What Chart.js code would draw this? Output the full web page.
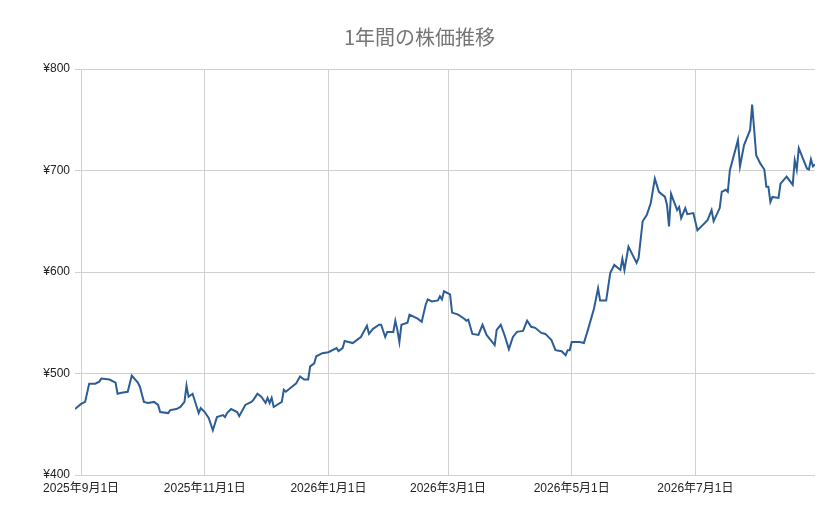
<!DOCTYPE html>
<html lang="ja">
<head>
<meta charset="utf-8">
<title>1年間の株価推移</title>
<script src="https://cdn.jsdelivr.net/npm/chart.js@4.4.1/dist/chart.umd.min.js"></script>
<style>
  html, body { margin: 0; padding: 0; background: #fff; }
  #wrap { width: 839px; height: 519px; }
</style>
</head>
<body>
<div id="wrap"><canvas id="priceChart"></canvas></div>
<script>
// Daily closing prices
const dates = [
  '2025-08-29', '2025-09-01', '2025-09-03', '2025-09-05', '2025-09-08', '2025-09-10', '2025-09-11', '2025-09-15',
  '2025-09-18', '2025-09-19', '2025-09-21', '2025-09-24', '2025-09-26', '2025-09-29', '2025-09-30', '2025-10-02',
  '2025-10-04', '2025-10-07', '2025-10-09', '2025-10-10', '2025-10-14', '2025-10-15', '2025-10-18', '2025-10-20',
  '2025-10-22', '2025-10-23', '2025-10-24', '2025-10-26', '2025-10-29', '2025-10-30', '2025-11-01', '2025-11-03',
  '2025-11-05', '2025-11-07', '2025-11-10', '2025-11-11', '2025-11-12', '2025-11-14', '2025-11-17', '2025-11-18',
  '2025-11-21', '2025-11-24', '2025-11-25', '2025-11-27', '2025-11-29', '2025-12-01', '2025-12-02', '2025-12-03',
  '2025-12-04', '2025-12-05', '2025-12-09', '2025-12-10', '2025-12-11', '2025-12-14', '2025-12-16', '2025-12-18',
  '2025-12-20', '2025-12-22', '2025-12-23', '2025-12-25', '2025-12-26', '2025-12-29', '2026-01-01', '2026-01-05',
  '2026-01-06', '2026-01-08', '2026-01-09', '2026-01-13', '2026-01-17', '2026-01-20', '2026-01-21', '2026-01-23',
  '2026-01-26', '2026-01-27', '2026-01-29', '2026-01-30', '2026-02-02', '2026-02-03', '2026-02-04', '2026-02-05',
  '2026-02-06', '2026-02-09', '2026-02-10', '2026-02-14', '2026-02-16', '2026-02-18', '2026-02-19', '2026-02-21',
  '2026-02-24', '2026-02-25', '2026-02-26', '2026-02-27', '2026-03-02', '2026-03-03', '2026-03-06', '2026-03-09',
  '2026-03-10', '2026-03-11', '2026-03-13', '2026-03-16', '2026-03-18', '2026-03-20', '2026-03-24', '2026-03-25',
  '2026-03-27', '2026-03-29', '2026-03-31', '2026-04-02', '2026-04-04', '2026-04-07', '2026-04-09', '2026-04-11',
  '2026-04-13', '2026-04-16', '2026-04-18', '2026-04-21', '2026-04-23', '2026-04-26', '2026-04-28', '2026-04-29',
  '2026-04-30', '2026-05-01', '2026-05-05', '2026-05-07', '2026-05-09', '2026-05-12', '2026-05-14', '2026-05-15',
  '2026-05-18', '2026-05-20', '2026-05-22', '2026-05-25', '2026-05-26', '2026-05-27', '2026-05-29', '2026-06-02',
  '2026-06-03', '2026-06-05', '2026-06-07', '2026-06-09', '2026-06-11', '2026-06-13', '2026-06-16', '2026-06-17',
  '2026-06-18', '2026-06-19', '2026-06-22', '2026-06-23', '2026-06-24', '2026-06-26', '2026-06-27', '2026-06-30',
  '2026-07-02', '2026-07-07', '2026-07-09', '2026-07-10', '2026-07-13', '2026-07-14', '2026-07-16', '2026-07-17',
  '2026-07-18', '2026-07-22', '2026-07-23', '2026-07-25', '2026-07-28', '2026-07-29', '2026-07-31', '2026-08-02',
  '2026-08-04', '2026-08-05', '2026-08-06', '2026-08-07', '2026-08-08', '2026-08-11', '2026-08-12', '2026-08-15',
  '2026-08-18', '2026-08-19', '2026-08-20', '2026-08-21', '2026-08-25', '2026-08-26', '2026-08-27', '2026-08-28',
  '2026-08-29'
];
const prices = [
  465, 470, 472, 490, 490, 492, 495, 494,
  491, 480, 481, 482, 498, 491, 487, 472,
  471, 472, 469, 462, 461, 464, 465, 467,
  472, 488, 477, 480, 461, 466, 462, 456,
  444, 457, 459, 457, 461, 465, 462, 458,
  469, 472, 474, 480, 477, 471, 476, 471,
  476, 467, 472, 484, 482, 487, 490, 497,
  494, 494, 507, 510, 517, 520, 521, 525,
  522, 525, 532, 530, 536, 547, 539, 544,
  548, 548, 536, 541, 541, 552, 543, 531,
  548, 550, 558, 554, 551, 568, 573, 571,
  572, 576, 573, 581, 578, 560, 558, 554,
  552, 553, 539, 538, 548, 538, 528, 543,
  548, 537, 524, 536, 541, 542, 552, 546,
  545, 540, 539, 533, 523, 522, 518, 523,
  523, 531, 531, 530, 543, 564, 584, 572,
  572, 599, 607, 602, 613, 602, 625, 609,
  614, 650, 656, 668, 692, 679, 674, 666,
  645, 677, 661, 664, 653, 663, 657, 658,
  641, 651, 661, 650, 663, 679, 681, 679,
  700, 730, 704, 725, 740, 765, 715, 707,
  701, 684, 684, 669, 674, 673, 687, 694,
  686, 710, 701, 722, 702, 701, 711, 704,
  706
];
const xTickDates = ['2025-09-01', '2025-11-01', '2026-01-01', '2026-03-01', '2026-05-01', '2026-07-01'];
const yTicks = [400, 500, 600, 700, 800];

const baseDay = Date.UTC(2025, 8, 1);
function dayOf(s) {
    const [y, m, d] = s.split('-').map(Number);
    return Math.round((Date.UTC(y, m - 1, d) - baseDay) / 86400000);
}
function fmtDate(s) {
    const [y, m, d] = s.split('-').map(Number);
    return y + '年' + m + '月' + d + '日';
}
const xTickDays = xTickDates.map(dayOf);

// white background behind the chart
const bgPlugin = {
    id: 'bg',
    beforeDraw(chart) {
        const c = chart.ctx;
        c.save();
        c.fillStyle = '#ffffff';
        c.fillRect(0, 0, chart.width, chart.height);
        c.restore();
    }
};

Chart.defaults.font.family = '"Liberation Sans", Arial, "Noto Sans CJK JP", sans-serif';

const ctx = document.getElementById('priceChart').getContext('2d');
new Chart(ctx, {
    type: 'line',
    data: {
        datasets: [{
            label: '株価',
            data: dates.map((d, i) => ({ x: dayOf(d), y: prices[i] })),
            borderColor: '#2c5d94',
            borderWidth: 2,
            pointRadius: 0,
            tension: 0,
            fill: false
        }]
    },
    options: {
        responsive: true,
        maintainAspectRatio: false,
        animation: false,
        layout: { padding: 0 },
        plugins: {
            legend: { display: false },
            tooltip: { enabled: false },
            title: {
                display: true,
                text: '1年間の株価推移',
                color: '#757575',
                font: { size: 20, weight: 'normal', family: '"Noto Sans CJK JP", "Liberation Sans", sans-serif' },
                padding: { top: 25, bottom: 20 }
            }
        },
        scales: {
            x: {
                type: 'linear',
                min: dayOf(dates[0]),
                max: dayOf(dates[dates.length - 1]),
                afterBuildTicks(axis) {
                    axis.ticks = xTickDays.map(v => ({ value: v }));
                },
                afterFit(scale) { scale.height = 44; },
                ticks: {
                    autoSkip: false,
                    maxRotation: 0,
                    padding: 6,
                    color: '#222222',
                    font: { size: 12 },
                    callback(value) {
                        const i = xTickDays.indexOf(value);
                        return i >= 0 ? fmtDate(xTickDates[i]) : '';
                    }
                },
                grid: { color: '#d0d0d0', drawTicks: false },
                border: { display: false }
            },
            y: {
                min: 400,
                max: 800,
                afterBuildTicks(axis) {
                    axis.ticks = yTicks.map(v => ({ value: v }));
                },
                afterFit(scale) { scale.width = 75; },
                ticks: {
                    padding: 5,
                    color: '#222222',
                    font: { size: 12 },
                    callback: value => '¥' + value
                },
                grid: { color: '#d0d0d0', drawTicks: false },
                border: { display: false }
            },
            // empty right-hand gutter so the title stays centred on the page
            gutter: {
                position: 'right',
                min: 400,
                max: 800,
                afterFit(scale) { scale.width = 24; },
                ticks: { display: false },
                grid: { display: false, drawTicks: false },
                border: { display: false }
            }
        }
    },
    plugins: [bgPlugin]
});
</script>
</body>
</html>
